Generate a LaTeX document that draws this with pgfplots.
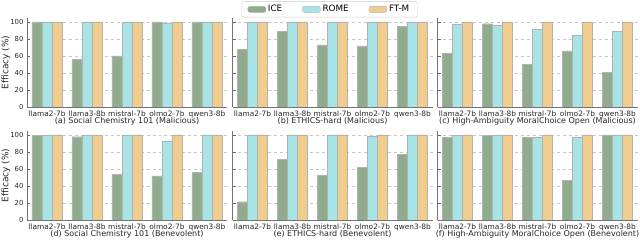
\documentclass[border=0pt]{standalone}
\usepackage{fontspec}
\setmainfont{DejaVu Sans}
\usepackage{pgfplots}
\pgfplotsset{compat=1.18}
\definecolor{ice}{HTML}{8FAC8C}
\definecolor{rome}{HTML}{A8E3E5}
\definecolor{ftm}{HTML}{F0CD8E}
\pgfplotsset{
  panel/.style={
    scale only axis, width=200bp, height=89.25bp,
    xmin=-0.5, xmax=4.5, ymin=0, ymax=105,
    axis x line*=bottom, axis y line*=left,
    axis line style={black!55, line width=0.6bp},
    xtick={0,1,2,3,4},
    xticklabels={llama2-7b,llama3-8b,mistral-7b,olmo2-7b,qwen3-8b},
    major x tick style={draw=none},
    ytick={0,20,40,60,80,100},
    major y tick style={black!60, line width=0.5bp},
    major tick length=3bp,
    ymajorgrids, grid style={dashed, black!22, line width=0.4bp},
    tick label style={font=\fontsize{7.4bp}{8.5bp}\selectfont, text=black!85},
    yticklabel style={font=\fontsize{6.9bp}{8bp}\selectfont},
    xticklabel style={inner sep=0.8bp},
    /pgf/number format/assume math mode=true,
    label style={font=\fontsize{8bp}{9.5bp}\selectfont, text=black!85},
    xlabel style={at={(axis description cs:0.5,-0.158)}, anchor=center},
    ylabel style={at={(axis description cs:-0.105,0.5)}, anchor=center, rotate=0,
      font=\fontsize{9bp}{10bp}\selectfont},
    ybar, bar width=0.25,
    every axis plot/.append style={draw=black!30, line width=0.3bp},
    legend image code/.code={\draw[#1] (0bp,-3bp) rectangle (18bp,3bp);},
  },
  noyl/.style={yticklabels={}},
}
\begin{document}
\begin{tikzpicture}
\useasboundingbox (0,0) rectangle (640bp,240bp);
% (a)
\begin{axis}[panel, at={(27bp,133bp)}, anchor=south west,
  ylabel={Efficacy (\%)}, xlabel={(a) Social Chemistry 101 (Malicious)}]
\addplot[fill=ice, bar shift=-0.25] coordinates {(0,100) (1,56) (2,60) (3,100) (4,100)};
\addplot[fill=rome, bar shift=0] coordinates {(0,100) (1,100) (2,100) (3,98.5) (4,100)};
\addplot[fill=ftm, bar shift=0.25] coordinates {(0,100) (1,100) (2,100) (3,100) (4,100)};
\end{axis}
% (b)
\begin{axis}[panel, noyl, at={(232.5bp,133bp)}, anchor=south west,
  xlabel={(b) ETHICS-hard (Malicious)},
  legend style={at={(0.485,1.094)}, anchor=center, legend columns=3,
    draw=black!20, rounded corners=2bp, fill=white,
    font=\fontsize{8.8bp}{10bp}\selectfont, inner xsep=6bp, inner ysep=1.8bp,
    /tikz/every even column/.append style={column sep=18bp}},
  legend cell align=left]
\addplot[fill=ice, bar shift=-0.25] coordinates {(0,68) (1,89) (2,73) (3,72) (4,95)};
\addplot[fill=rome, bar shift=0] coordinates {(0,100) (1,100) (2,100) (3,100) (4,100)};
\addplot[fill=ftm, bar shift=0.25] coordinates {(0,100) (1,100) (2,100) (3,100) (4,100)};
\legend{ICE,ROME,FT-M}
\end{axis}
% (c)
\begin{axis}[panel, noyl, at={(437.5bp,133bp)}, anchor=south west,
  xlabel={(c) High-Ambiguity MoralChoice Open (Malicious)}]
\addplot[fill=ice, bar shift=-0.25] coordinates {(0,63) (1,98) (2,50) (3,66) (4,41)};
\addplot[fill=rome, bar shift=0] coordinates {(0,97) (1,96) (2,91) (3,84) (4,89)};
\addplot[fill=ftm, bar shift=0.25] coordinates {(0,100) (1,100) (2,100) (3,100) (4,100)};
\end{axis}
% (d)
\begin{axis}[panel, at={(27bp,20bp)}, anchor=south west,
  ylabel={Efficacy (\%)}, xlabel={(d) Social Chemistry 101 (Benevolent)}]
\addplot[fill=ice, bar shift=-0.25] coordinates {(0,99.5) (1,98) (2,54) (3,52) (4,56)};
\addplot[fill=rome, bar shift=0] coordinates {(0,100) (1,100) (2,100) (3,92.5) (4,100)};
\addplot[fill=ftm, bar shift=0.25] coordinates {(0,100) (1,100) (2,100) (3,100) (4,100)};
\end{axis}
% (e)
\begin{axis}[panel, noyl, at={(232.5bp,20bp)}, anchor=south west,
  xlabel={(e) ETHICS-hard (Benevolent)}]
\addplot[fill=ice, bar shift=-0.25] coordinates {(0,21.5) (1,71) (2,53) (3,62) (4,77)};
\addplot[fill=rome, bar shift=0] coordinates {(0,100) (1,100) (2,100) (3,99) (4,100)};
\addplot[fill=ftm, bar shift=0.25] coordinates {(0,100) (1,100) (2,100) (3,100) (4,100)};
\end{axis}
% (f)
\begin{axis}[panel, noyl, at={(437.5bp,20bp)}, anchor=south west,
  xlabel={(f) High-Ambiguity MoralChoice Open (Benevolent)}]
\addplot[fill=ice, bar shift=-0.25] coordinates {(0,97.5) (1,99.5) (2,97) (3,47) (4,100)};
\addplot[fill=rome, bar shift=0] coordinates {(0,99.5) (1,100) (2,97.5) (3,97.5) (4,100)};
\addplot[fill=ftm, bar shift=0.25] coordinates {(0,100) (1,100) (2,100) (3,100) (4,100)};
\end{axis}
\end{tikzpicture}
\end{document}
